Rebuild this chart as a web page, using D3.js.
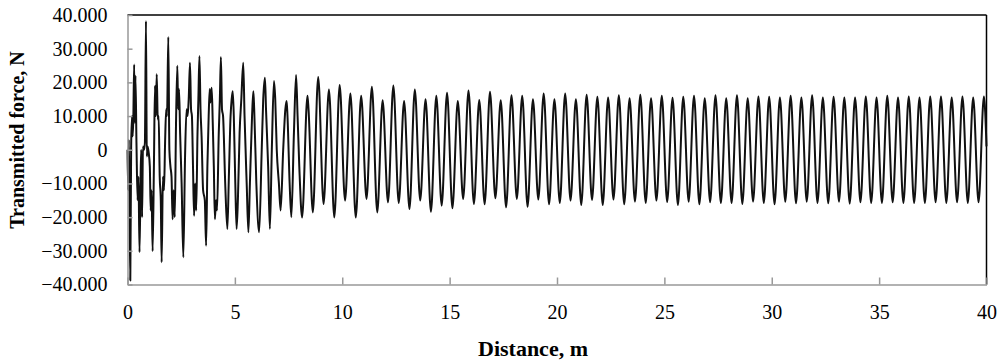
<!DOCTYPE html>
<html>
<head>
<meta charset="utf-8">
<script src="https://cdn.jsdelivr.net/npm/d3@7"></script>
<style>
  body { margin: 0; background: #fff; }
  svg { display: block; }
  text { font-family: "Liberation Serif", "Times New Roman", serif; fill: #000; }
</style>
</head>
<body>
<svg id="chart" width="1001" height="361"></svg>
<script>
// tick values
const xTicks = [0, 5, 10, 15, 20, 25, 30, 35, 40];
const yTicks = [-40, -30, -20, -10, 0, 10, 20, 30, 40];

// start-up part (0 - 8 m), read point by point
const transDist = [
  0.00, 0.03, 0.06, 0.09, 0.13, 0.17, 0.21, 0.24, 0.27, 0.31, 0.34, 0.37,
  0.42, 0.47, 0.51, 0.56, 0.61, 0.64, 0.68, 0.72, 0.77, 0.81, 0.86, 0.90,
  0.94, 0.99, 1.04, 1.08, 1.12, 1.17, 1.23, 1.28, 1.32, 1.36, 1.41, 1.45,
  1.50, 1.55, 1.59, 1.65, 1.70, 1.75, 1.80, 1.84, 1.90, 1.95, 2.00, 2.05,
  2.10, 2.15, 2.20, 2.26, 2.32, 2.36, 2.40, 2.45, 2.52, 2.60, 2.68, 2.75,
  2.80, 2.85, 2.91, 2.96, 3.00, 3.05, 3.10, 3.15, 3.20, 3.26, 3.30, 3.35,
  3.40, 3.45, 3.52, 3.60, 3.66, 3.72, 3.78, 3.83, 3.86, 3.92, 3.97, 4.02,
  4.07, 4.12, 4.17, 4.25, 4.30, 4.35, 4.40, 4.45, 4.55, 4.65, 4.72, 4.80,
  4.85, 4.90, 4.95, 5.02, 5.08, 5.14, 5.22, 5.30, 5.39, 5.45, 5.55, 5.63,
  5.70, 5.80, 5.86, 5.90, 6.00, 6.13, 6.25, 6.32, 6.40, 6.45, 6.55, 6.63,
  6.72, 6.82, 6.88, 6.95, 7.05, 7.13, 7.25, 7.35, 7.41, 7.45, 7.55, 7.63,
  7.75, 7.85, 7.92, 8.00
];
const transForce = [
  0, -12, 3, -13, -38.8, 1, 10, 4, 9, 25.3, 8, 22,
  1, -15, -8, -30.4, -8, 0, -20, 1, 0, 2, 38.2, -2,
  1, -1, -5, -18, -12, -30.1, -5, 19, 10, 22.4, 9, 10,
  -8, -15, -33.4, -8, -12, 2, 12, 10, 33.5, 0, -5, -8,
  -20.6, -12, -20, 8, 24.9, 12, 18, 5, -10, -31.9, -2, 12,
  10, 15, 25.8, 12, 10, -5, -19.6, -10, -18, 5, 15, 27.8,
  12, 4, -12, -15, -28.5, -5, 10, 18, 14, 18.4, 8, -5,
  -20.6, -15, -18, 5, 15, 27.5, 12, 10, -10, -23.5, -8, 10,
  15, 17.4, 10, -10, -23.5, -15, 5, 15, 25.8, 10, -10, -24.5,
  -10, 10, 17.4, 12, -10, -24.5, 0, 15, 21.4, 12, -5, -23.5,
  0, 20.4, 15, 0, -10, -18, 0, 12, 14.5, 10, -10, -20,
  5, 22.2, 10, -5
];

// steady part: crests and troughs of every cycle
const peakDist = [
  8.38, 8.88, 9.38, 9.88, 10.38, 10.88, 11.38, 11.88,
  12.38, 12.88, 13.38, 13.88, 14.38, 14.88, 15.38, 15.88,
  16.38, 16.88, 17.38, 17.88, 18.38, 18.88, 19.38, 19.88,
  20.38, 20.88, 21.38, 21.88, 22.38, 22.88, 23.38, 23.88,
  24.38, 24.88, 25.38, 25.88, 26.38, 26.88, 27.38, 27.88,
  28.38, 28.88, 29.38, 29.88, 30.38, 30.88, 31.38, 31.88,
  32.38, 32.88, 33.38, 33.88, 34.38, 34.88, 35.38, 35.88,
  36.38, 36.88, 37.38, 37.88, 38.38, 38.88, 39.38, 39.88
];
const peakForce = [
  16.0, 21.6, 17.9, 19.2, 16.7, 16.0, 18.7, 14.7,
  19.1, 14.5, 17.9, 15.0, 16.0, 16.9, 14.5, 17.6,
  14.8, 17.2, 14.7, 16.2, 16.0, 15.0, 16.7, 15.0,
  16.7, 15.0, 16.3, 15.7, 15.5, 16.2, 15.3, 16.3,
  15.3, 16.0, 15.4, 15.7, 16.0, 15.3, 16.2, 15.3,
  16.2, 15.3, 15.8, 15.7, 15.5, 16.0, 15.5, 16.2,
  15.5, 15.7, 15.5, 15.5, 15.8, 15.5, 16.0, 15.5,
  15.8, 15.5, 15.8, 15.8, 15.5, 15.8, 15.5, 15.8
];
const troughDist = [
  8.13, 8.63, 9.13, 9.63, 10.13, 10.63, 11.13, 11.63,
  12.13, 12.63, 13.13, 13.63, 14.13, 14.63, 15.13, 15.63,
  16.13, 16.63, 17.13, 17.63, 18.13, 18.63, 19.13, 19.63,
  20.13, 20.63, 21.13, 21.63, 22.13, 22.63, 23.13, 23.63,
  24.13, 24.63, 25.13, 25.63, 26.13, 26.63, 27.13, 27.63,
  28.13, 28.63, 29.13, 29.63, 30.13, 30.63, 31.13, 31.63,
  32.13, 32.63, 33.13, 33.63, 34.13, 34.63, 35.13, 35.63,
  36.13, 36.63, 37.13, 37.63, 38.13, 38.63, 39.13, 39.63
];
const troughForce = [
  -20.1, -18.6, -16.1, -20.1, -15.1, -20.1, -14.6, -18.6,
  -15.6, -15.8, -17.6, -15.1, -18.4, -16.6, -17.4, -14.6,
  -16.1, -16.2, -14.4, -17.1, -14.6, -16.9, -14.8, -16.2,
  -15.8, -15.1, -16.4, -14.9, -16.4, -14.8, -16.2, -15.4,
  -15.8, -15.1, -15.5, -16.4, -15.4, -16.2, -15.6, -15.8,
  -15.8, -16.1, -15.4, -15.8, -16.2, -15.4, -15.9, -15.4,
  -15.8, -15.9, -15.4, -16.0, -15.6, -15.8, -15.8, -15.6,
  -15.8, -15.8, -15.8, -15.6, -15.8, -15.6, -15.8, -15.6
];
// small shoulder after the 8.38 m crest and the last sample
const extraDist = [8.43, 40.0];
const extraForce = [12.0, 1.0];

const width = 1001, height = 361;
const margin = { top: 15, right: 14.5, bottom: 76.5, left: 127.5 };
const serif = "'Liberation Serif', 'Times New Roman', serif";

const svg = d3.select("#chart");

const x = d3.scaleLinear()
  .domain([0, 40])
  .range([margin.left, width - margin.right]);
const y = d3.scaleLinear()
  .domain([-40, 40])
  .range([height - margin.bottom, margin.top]);

// merge all the read points into one series
const points = [];
transDist.forEach((d, i) => points.push([d, transForce[i]]));
peakDist.forEach((d, i) => points.push([d, peakForce[i]]));
troughDist.forEach((d, i) => points.push([d, troughForce[i]]));
extraDist.forEach((d, i) => points.push([d, extraForce[i]]));
points.sort((a, b) => a[0] - b[0]);

// plot frame: black on top/right
svg.append("line")
  .attr("x1", x(0)).attr("x2", x(40))
  .attr("y1", y(40)).attr("y2", y(40))
  .attr("stroke", "#000").attr("stroke-width", 1.5);
svg.append("line")
  .attr("x1", x(40)).attr("x2", x(40))
  .attr("y1", y(40)).attr("y2", y(-40))
  .attr("stroke", "#000").attr("stroke-width", 1.5);

// the trace
const line = d3.line()
  .x(d => x(d[0]))
  .y(d => y(d[1]))
  .curve(d3.curveMonotoneX);

svg.append("path")
  .datum(points)
  .attr("fill", "none")
  .attr("stroke", "#111")
  .attr("stroke-width", 2)
  .attr("stroke-linejoin", "round")
  .attr("d", line);

// axes
const yAxis = d3.axisLeft(y)
  .tickValues(yTicks)
  .tickSizeInner(-5)
  .tickSizeOuter(0)
  .tickPadding(20)
  .tickFormat(d => d === 0 ? "0" : d3.format(".3f")(d));

const xAxis = d3.axisBottom(x)
  .tickValues(xTicks)
  .tickSizeInner(-7)
  .tickSizeOuter(0)
  .tickPadding(20)
  .tickFormat(d3.format("d"));

const gy = svg.append("g")
  .attr("transform", `translate(${margin.left},0)`)
  .call(yAxis);
const gx = svg.append("g")
  .attr("transform", `translate(0,${height - margin.bottom})`)
  .call(xAxis);

[gx, gy].forEach(g => {
  g.attr("font-family", serif);
  g.select(".domain").attr("stroke", "#999").attr("stroke-width", 1.5);
  g.selectAll(".tick line").attr("stroke", "#999").attr("stroke-width", 1.5);
  g.selectAll(".tick text")
    .style("font-family", serif)
    .style("font-size", "20px")
    .attr("fill", "#000");
});

// titles
svg.append("text")
  .attr("x", 533)
  .attr("y", 356)
  .attr("text-anchor", "middle")
  .style("font-family", serif)
  .style("font-size", "22px")
  .style("font-weight", "bold")
  .text("Distance, m");

svg.append("text")
  .attr("transform", "translate(24,140) rotate(-90)")
  .attr("text-anchor", "middle")
  .style("font-family", serif)
  .style("font-size", "20px")
  .style("font-weight", "bold")
  .text("Transmitted force, N");
</script>
</body>
</html>
